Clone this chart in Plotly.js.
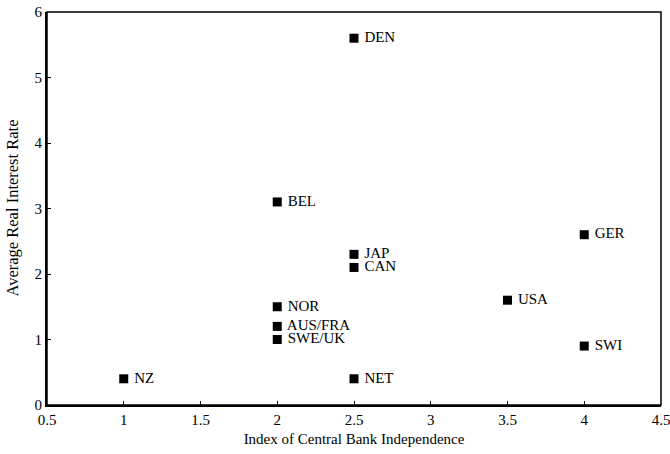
<!DOCTYPE html>
<html><head><meta charset="utf-8">
<script src="https://cdn.plot.ly/plotly-3.0.1.min.js"></script>
<style>html,body{margin:0;padding:0;background:#fff}</style>
</head><body><div id="chart" style="width:670px;height:454px"></div>
<script>
const countries = ["NZ","NOR","AUS/FRA","SWE/UK","BEL","DEN","JAP","CAN","NET","USA","GER","SWI"];
const independence = [1, 2, 2, 2, 2, 2.5, 2.5, 2.5, 2.5, 3.5, 4, 4];
const realRate = [0.4, 1.5, 1.2, 1.0, 3.1, 5.6, 2.3, 2.1, 0.4, 1.6, 2.6, 0.9];
const xTicks = [0.5, 1, 1.5, 2, 2.5, 3, 3.5, 4, 4.5];
const yTicks = [0, 1, 2, 3, 4, 5, 6];
const xTitle = "Index of Central Bank Independence";
const yTitle = "Average Real Interest Rate";

const font = {family: "Liberation Serif, Times New Roman, serif", size: 15, color: "#000"};
Plotly.newPlot("chart", [{
  x: independence, y: realRate, text: countries.map(c => " " + c),
  mode: "markers+text", type: "scatter",
  marker: {symbol: "square", size: 9, color: "#000"},
  textposition: "middle right",
  textfont: font, cliponaxis: false, hoverinfo: "skip"
}], {
  width: 670, height: 454,
  margin: {l: 47, r: 9, t: 12, b: 49},
  paper_bgcolor: "#fff", plot_bgcolor: "#fff",
  showlegend: false,
  font: font,
  shapes: [{type: "rect", xref: "paper", yref: "paper", x0: 0, x1: 1, y0: 0, y1: 1,
    line: {color: "#000", width: 1.5}}],
  annotations: [{text: yTitle, xref: "paper", yref: "paper", x: 0, y: 0.5,
    xanchor: "center", yanchor: "middle", xshift: -35, textangle: -90, showarrow: false,
    font: Object.assign({}, font, {size: 16.5})}],
  xaxis: {range: [0.5, 4.5], tickvals: xTicks, ticktext: xTicks.map(String),
    ticks: "inside", ticklen: 4, tickcolor: "#000", showgrid: false, zeroline: false,
    ticklabeloverflow: "allow",
    showline: true, linecolor: "#000", linewidth: 2,
    title: {text: xTitle, font: font, standoff: 6}},
  yaxis: {range: [0, 6], tickvals: yTicks, ticktext: yTicks.map(String),
    ticks: "inside", ticklen: 4, tickcolor: "#000", showgrid: false, zeroline: false,
    ticklabeloverflow: "allow",
    showline: true, linecolor: "#000", linewidth: 2}
}, {staticPlot: true});
</script></body></html>
